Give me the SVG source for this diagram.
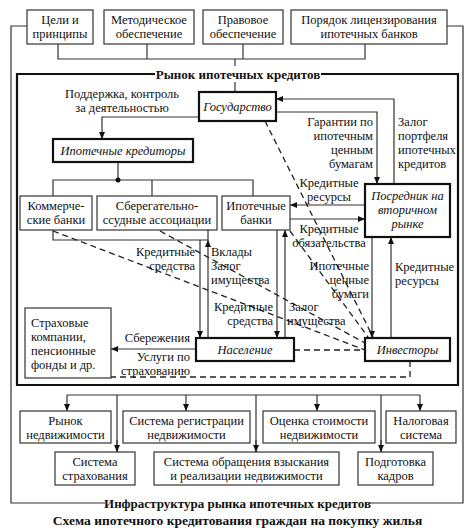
<svg xmlns="http://www.w3.org/2000/svg" width="474" height="532" viewBox="0 0 474 532">
<style>
text{font-family:"Liberation Serif","DejaVu Serif",serif;font-size:12.5px;fill:#111;text-anchor:middle}
.i{font-style:italic}
.b{font-weight:bold}
.s{text-anchor:start}
.e{text-anchor:end}
.box{fill:#fff;stroke:#333;stroke-width:1.2}
.tb{fill:#fff;stroke:#111;stroke-width:2.2}
.ln{fill:none;stroke:#333;stroke-width:1.2}
.ar{fill:none;stroke:#333;stroke-width:1.2;marker-end:url(#a)}
.ds{fill:none;stroke:#222;stroke-width:1.3;stroke-dasharray:6,4}
.fr{fill:none;stroke:#111;stroke-width:2.2}
</style>
<defs>
<marker id="a" viewBox="0 0 7 6" refX="7" refY="3" markerWidth="7" markerHeight="6" orient="auto" markerUnits="userSpaceOnUse"><path d="M0,0 L7,3 L0,6z" fill="#111"/></marker>
</defs>
<rect width="474" height="532" fill="#fff"/>

<g id="frames">
<path class="ln" d="M27,26 H11 V503 H105 M447,26 H463 V503 H370"/>
<path class="fr" d="M155,74 H17 V385 H458 V74 H321"/>
</g>

<g id="connectors">
<path class="ln" d="M58,44 V59 H365 V44 M147,44 V59 M243,44 V59 M235,59 V92"/>
<path class="ar" d="M199,117 H102 V139"/>
<path class="ar" d="M394,184 V99 H276"/>
<path class="ar" d="M276,112 H377 V184"/>
<path class="ln" d="M118,162 V180 M53,196 V180 H253 V196 M152,180 V196"/>
<circle cx="118" cy="180" r="2.5" fill="#111"/>
<path class="ar" d="M365,205 H290"/>
<path class="ar" d="M290,219 H365"/>
<path class="ar" d="M372,237 V338"/>
<path class="ar" d="M391,338 V237"/>
<path class="ln" d="M53,230 V240 H208 V230"/>
<path class="ar" d="M200,240 V338"/>
<path class="ar" d="M208,338 V240"/>
<path class="ar" d="M277,230 V338"/>
<path class="ar" d="M285,338 V230"/>
<path class="ar" d="M196,349 H111"/>
<path class="ds" d="M265,121 L373,337"/>
<path class="ds" d="M290,231 L368,337"/>
<path class="ds" d="M160,231 L365,343"/>
<path class="ds" d="M53,231 L365,350"/>
<path class="ds" d="M294,350 H365"/>
<path class="ds" d="M410,361 V377 H111"/>
<path class="ln" d="M67,395 H420 M117,395 V452 M256,395 V452 M381,395 V452"/>
<path class="ar" d="M67,395 V411"/>
<path class="ar" d="M186,395 V411"/>
<path class="ar" d="M317,395 V411"/>
<path class="ar" d="M420,395 V411"/>
<path class="ar" d="M117,440 V452"/>
<path class="ar" d="M256,440 V452"/>
<path class="ar" d="M381,440 V452"/>
</g>

<g id="market-title">
<rect x="156" y="66" width="164" height="16" fill="#fff"/>
<text class="b" x="238" y="78.5" style="font-size:13px">Рынок ипотечных кредитов</text>
</g>

<g id="n-goals"><rect class="box" x="27" y="10" width="66" height="34"/><text x="60" y="23.5">Цели и</text><text x="60" y="37.5">принципы</text></g>
<g id="n-method"><rect class="box" x="104" y="10" width="90" height="34"/><text x="149" y="23.5">Методическое</text><text x="149" y="37.5">обеспечение</text></g>
<g id="n-legal"><rect class="box" x="203" y="10" width="80" height="34"/><text x="243" y="23.5">Правовое</text><text x="243" y="37.5">обеспечение</text></g>
<g id="n-license"><rect class="box" x="291" y="10" width="156" height="34"/><text x="369" y="23.5">Порядок лицензирования</text><text x="369" y="37.5">ипотечных банков</text></g>

<g id="n-state"><rect class="tb" x="199" y="92" width="77" height="29"/><text class="i" x="237.5" y="111">Государство</text></g>
<g id="l-support"><text x="122" y="98">Поддержка, контроль</text><text x="122" y="112">за деятельностью</text></g>
<g id="l-guarantee"><text class="e" x="373" y="125.5">Гарантии по</text><text class="e" x="373" y="139.5">ипотечным</text><text class="e" x="373" y="153.5">ценным</text><text class="e" x="373" y="167.5">бумагам</text></g>
<g id="l-pledge"><text class="s" x="398" y="125.5">Залог</text><text class="s" x="398" y="139.5">портфеля</text><text class="s" x="398" y="153.5">ипотечных</text><text class="s" x="398" y="167.5">кредитов</text></g>

<g id="n-lenders"><rect class="tb" x="53" y="139" width="140" height="23"/><text class="i" x="123" y="155">Ипотечные кредиторы</text></g>
<g id="n-commercial"><rect class="box" x="20" y="196" width="72" height="34"/><text x="56" y="210">Коммерче-</text><text x="56" y="224">ские банки</text></g>
<g id="n-savings"><rect class="box" x="97" y="196" width="120" height="34"/><text x="157" y="210">Сберегательно-</text><text x="157" y="224">ссудные ассоциации</text></g>
<g id="n-mortgage-banks"><rect class="box" x="222" y="196" width="68" height="34"/><text x="256" y="210">Ипотечные</text><text x="256" y="224">банки</text></g>
<g id="n-intermediary"><rect class="tb" x="365" y="184" width="85" height="53"/><text class="i" x="407.5" y="200">Посредник на</text><text class="i" x="407.5" y="214">вторичном</text><text class="i" x="407.5" y="228">рынке</text></g>

<g id="l-res1"><text x="329" y="186.5">Кредитные</text><text x="329" y="200.5">ресурсы</text></g>
<g id="l-oblig"><text x="329" y="232.5">Кредитные</text><text x="329" y="246.5">обязательства</text></g>
<g id="l-res2"><text class="s" x="395" y="270.5">Кредитные</text><text class="s" x="395" y="284.5">ресурсы</text></g>
<g id="l-securities"><text class="e" x="369" y="270">Ипотечные</text><text class="e" x="369" y="284">ценные</text><text class="e" x="369" y="298">бумаги</text></g>
<g id="l-funds1"><text class="e" x="195" y="256">Кредитные</text><text class="e" x="195" y="270">средства</text></g>
<g id="l-deposits"><text class="s" x="211" y="256">Вклады</text><text class="s" x="211" y="270">Залог</text><text class="s" x="211" y="284">имущества</text></g>
<g id="l-funds2"><text class="e" x="273" y="310.5">Кредитные</text><text class="e" x="273" y="324.5">средства</text></g>
<g id="l-pledge2"><text class="s" x="289" y="310.5">Залог</text><text class="s" x="287" y="324.5">имущества</text></g>

<g id="n-insurance"><rect class="box" x="25" y="308" width="86" height="70"/><text class="s" x="31" y="327">Страховые</text><text class="s" x="31" y="341">компании,</text><text class="s" x="31" y="355">пенсионные</text><text class="s" x="31" y="369">фонды и др.</text></g>
<g id="l-savings"><text class="e" x="190" y="342">Сбережения</text><text class="e" x="190" y="360.5">Услуги по</text><text class="e" x="190" y="374.5">страхованию</text></g>
<g id="n-population"><rect class="tb" x="196" y="338" width="98" height="23"/><text class="i" x="245" y="354">Население</text></g>
<g id="n-investors"><rect class="tb" x="365" y="338" width="85" height="23"/><text class="i" x="407.5" y="354">Инвесторы</text></g>

<g id="n-realty"><rect class="box" x="20" y="411" width="91" height="32"/><text x="65.5" y="424.5">Рынок</text><text x="65.5" y="438.5">недвижимости</text></g>
<g id="n-registration"><rect class="box" x="123" y="411" width="127" height="32"/><text x="186.5" y="424.5">Система регистрации</text><text x="186.5" y="438.5">недвижимости</text></g>
<g id="n-valuation"><rect class="box" x="263" y="411" width="112" height="32"/><text x="319" y="424.5">Оценка стоимости</text><text x="319" y="438.5">недвижимости</text></g>
<g id="n-tax"><rect class="box" x="386" y="411" width="70" height="32"/><text x="421" y="424.5">Налоговая</text><text x="421" y="438.5">система</text></g>
<g id="n-ins-system"><rect class="box" x="55" y="452" width="80" height="33"/><text x="95" y="465.5">Система</text><text x="95" y="479.5">страхования</text></g>
<g id="n-foreclosure"><rect class="box" x="154" y="452" width="185" height="33"/><text x="246.5" y="465.5">Система обращения взыскания</text><text x="246.5" y="479.5">и реализации недвижимости</text></g>
<g id="n-training"><rect class="box" x="358" y="452" width="75" height="33"/><text x="395.5" y="465.5">Подготовка</text><text x="395.5" y="479.5">кадров</text></g>

<g id="infra-title"><text class="b" x="237.5" y="507.5" style="font-size:13px">Инфраструктура рынка ипотечных кредитов</text></g>
<text class="b" x="237.5" y="525" style="font-size:13.5px">Схема ипотечного кредитования граждан на покупку жилья</text>
</svg>
